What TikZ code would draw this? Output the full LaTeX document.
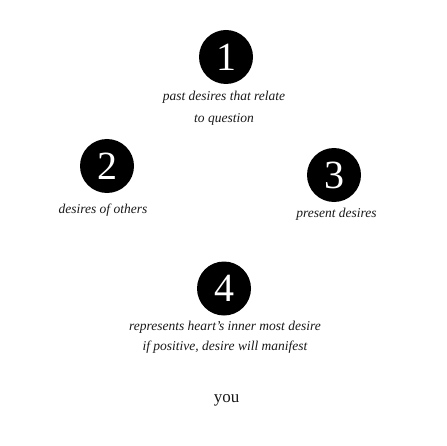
\documentclass[tikz,border=0pt]{standalone}
\usepackage{fontspec}
\setmainfont{Liberation Serif}
\begin{document}
\begin{tikzpicture}[x=1pt,y=-1pt,
  numdisc/.style={circle,fill=black,text=white,minimum size=54pt,inner sep=0pt,font=\fontsize{40}{40}\selectfont},
  lbl/.style={text=black!90,inner sep=0pt,font=\fontsize{13.5}{15}\selectfont\itshape},
]
\useasboundingbox (0,0) rectangle (446,446);
\node[numdisc] (c1) at (226,57) {1};
\node[numdisc] (c2) at (107,166) {2};
\node[numdisc] (c3) at (334,175) {3};
\node[numdisc] (c4) at (224,288.5) {4};
\node[lbl] (t1a) at (224,97.5) {past desires that relate};
\node[lbl] (t1b) at (224,119) {to question};
\node[lbl] (t2) at (103,210) {desires of others};
\node[lbl] (t3) at (336.5,214) {present desires};
\node[lbl] (t4a) at (225,327) {represents heart's inner most desire};
\node[lbl] (t4b) at (225,347.5) {if positive, desire will manifest};
\node[text=black!90,inner sep=0pt,font=\fontsize{17}{19}\selectfont] (you) at (226.5,400) {you};
\end{tikzpicture}
\end{document}
